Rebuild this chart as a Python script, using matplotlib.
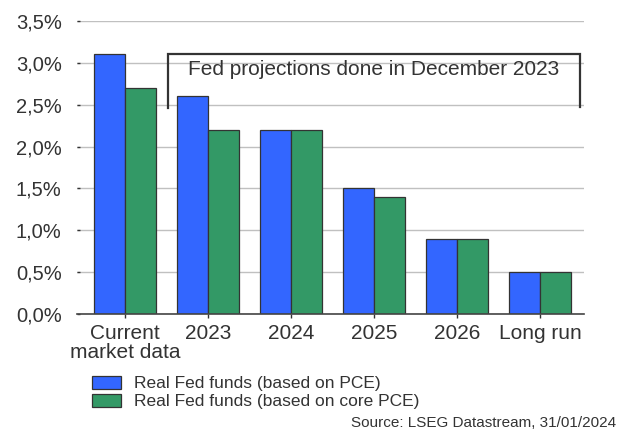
import numpy as np
import matplotlib
matplotlib.use("Agg")
import matplotlib.pyplot as plt

plt.rcParams['font.family'] = ['Liberation Sans', 'DejaVu Sans']

# real Fed funds rate, %
categories = ['Current\nmarket data', '2023', '2024', '2025', '2026', 'Long run']
real_pce = [3.1, 2.6, 2.2, 1.5, 0.9, 0.5]
real_core_pce = [2.7, 2.2, 2.2, 1.4, 0.9, 0.5]
yticks = [0.0, 0.5, 1.0, 1.5, 2.0, 2.5, 3.0, 3.5]

blue = '#3366ff'
green = '#339966'
txt = '#333333'

fig = plt.figure(figsize=(6.27, 4.30), dpi=100)
ax = fig.add_axes([77/627, 1 - 314/430, (584 - 77)/627, (314 - 21)/430])

x = np.arange(len(categories))
w = 0.373
ax.bar(x - w/2, real_pce, w, color=blue, edgecolor='#333333', linewidth=0.9,
       label='Real Fed funds (based on PCE)', zorder=3)
ax.bar(x + w/2, real_core_pce, w, color=green, edgecolor='#333333', linewidth=0.9,
       label='Real Fed funds (based on core PCE)', zorder=3)

ax.set_xlim(-0.578, 5.53)
ax.set_ylim(0, 3.5)
ax.set_yticks(yticks)
ax.set_yticklabels([('%.1f%%' % v).replace('.', ',') for v in yticks])
ax.set_xticks(x)
ax.set_xticklabels(categories)
for t in ax.get_xticklabels():
    t.set_linespacing(1.05)

ax.grid(axis='y', color='#c0c0c0', linewidth=1.0, zorder=0)
for s in ['top', 'right', 'left']:
    ax.spines[s].set_visible(False)
ax.spines['bottom'].set_color('#444444')
ax.spines['bottom'].set_linewidth(1.2)
ax.spines['bottom'].set_zorder(4)

ax.tick_params(axis='y', direction='in', length=2.5, width=1, color='#333333',
               labelsize=14.5, labelcolor=txt, pad=11)
ax.tick_params(axis='x', direction='out', length=3, width=1, color='#333333',
               labelsize=15, labelcolor=txt, pad=4)

# bracket over the FOMC projection columns
bx = [0.518, 0.518, 5.48, 5.48]
by = [2.46, 3.107, 3.107, 2.476]
ax.plot(bx, by, color='#333333', linewidth=1.6, solid_joinstyle='miter', zorder=5,
        clip_on=False)
ax.text(3.0, 2.92, 'Fed projections done in December 2023', ha='center', va='center',
        fontsize=15, color=txt, zorder=5)

fig.legend(loc='upper left', bbox_to_anchor=(92/627, 1 - 376/430), frameon=False,
           fontsize=12.5, handlelength=1.67, handleheight=0.75, handletextpad=0.75,
           labelspacing=0.15, borderaxespad=0, borderpad=0, labelcolor=txt)

fig.text(616/627, 1 - 423/430, 'Source: LSEG Datastream, 31/01/2024', ha='right',
         va='center', fontsize=11, color=txt)

fig.savefig('out.png', dpi=100)
